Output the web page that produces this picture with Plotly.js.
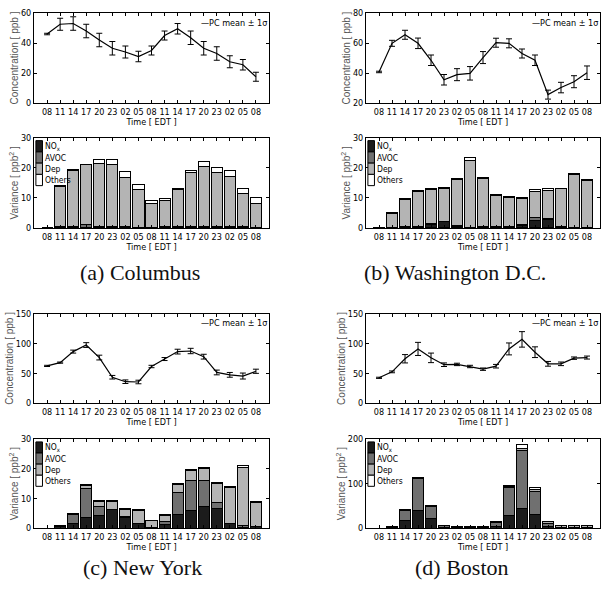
<!DOCTYPE html>
<html>
<head>
<meta charset="utf-8">
<script src="https://cdn.plot.ly/plotly-3.0.1.min.js"></script>
<style>html,body{margin:0;padding:0;background:#fff;}#chart{width:613px;height:592px;}</style>
</head>
<body>
<div id="chart"></div>
<script>
// ---------- DATA ----------
const hours = ['08','11','14','17','20','23','02','05','08','11','14','17','20','23','02','05','08'];

// (a) Columbus
const colConc = [46, 52.5, 53, 48, 42, 36.5, 34, 31, 35, 45, 49.5, 43.5, 36.5, 33, 27.5, 25.5, 17.5];
const colErr  = [0.5, 4, 4.5, 4.5, 4.5, 4.5, 4, 3.5, 3, 3, 3.5, 4.5, 4.5, 4.5, 4, 3.5, 3];
const colNOx  = [0, 0.1, 0.1, 0.1, 0.1, 0.1, 0.1, 0.1, 0.1, 0.1, 0.1, 0.1, 0.1, 0.1, 0.1, 0.1, 0.1];
const colAVOC = [0, 0.3, 0.5, 0.9, 0.4, 0.4, 0.3, 0.2, 0.2, 0.3, 0.5, 0.5, 0.3, 0.3, 0.3, 0.3, 0.2];
const colDep  = [0, 13.5, 18.5, 20.1, 21.0, 20.5, 16.5, 12.4, 7.7, 8.8, 12.3, 17.8, 20.2, 18.0, 16.9, 11.0, 7.9];
const colOth  = [0, 0.3, 0.3, 0.2, 1.4, 1.7, 1.8, 1.7, 1.0, 0.6, 0.3, 0.6, 1.6, 1.6, 2.0, 1.6, 1.9];

// (b) Washington D.C.
const dcConc = [40.7, 59.8, 65.5, 59.8, 48.5, 35.5, 38.9, 39.8, 50.3, 60.2, 59.8, 53, 48.5, 25.6, 30.3, 34.2, 40.2];
const dcErr  = [0.5, 2, 3, 3.5, 3.5, 3.5, 4, 4.5, 4, 3, 3, 3, 3.5, 3, 3.5, 4, 4.5];
const dcNOx  = [0, 0.1, 0.2, 0.3, 1.0, 2.0, 0.5, 0.1, 0.2, 0.2, 0.3, 0.8, 2.6, 2.8, 0.3, 0.1, 0.1];
const dcAVOC = [0, 0.1, 0.3, 0.3, 0.4, 0.3, 0.2, 0.1, 0.2, 0.2, 0.2, 0.2, 0.8, 0.5, 0.2, 0.1, 0.1];
const dcDep  = [0, 4.5, 9.0, 11.5, 11.3, 10.7, 15.4, 22.2, 16.0, 10.5, 9.8, 8.8, 8.9, 9.3, 12.5, 17.5, 15.6];
const dcOth  = [0, 0.3, 0.4, 0.3, 0.4, 0.4, 0.4, 1.0, 0.4, 0.3, 0.3, 0.3, 0.5, 0.5, 0.3, 0.4, 0.4];

// (c) New York
const nyConc = [62.5, 68, 86.5, 97.5, 76.5, 43.5, 36, 35.5, 61.5, 74, 86.5, 87.5, 78, 51.5, 47.5, 45.5, 53.5];
const nyErr  = [1, 1, 2.5, 4, 4, 3, 3, 3, 2, 2.5, 4, 4.5, 4, 4, 4, 5, 3.5];
const nyNOx  = [0, 0.5, 1.7, 3.7, 4.1, 6.3, 3.6, 1.4, 0.1, 1.1, 4.5, 5.8, 7.2, 6.6, 1.4, 0.3, 0.4];
const nyAVOC = [0, 0.2, 2.8, 9.6, 3.2, 0.1, 0.2, 0.1, 0.1, 1.2, 7.6, 10.4, 9.0, 1.9, 0.1, 0.6, 0.1];
const nyDep  = [0, 0, 0.3, 1.1, 1.6, 2.6, 2.6, 4.6, 2.2, 2.0, 2.7, 3.3, 3.9, 6.6, 12.3, 19.5, 8.2];
const nyOth  = [0, 0.1, 0.2, 0.3, 0.4, 0.2, 0.3, 0.3, 0.3, 0.3, 0.3, 0.4, 0.4, 0.4, 0.3, 0.8, 0.4];

// (d) Boston
const bosConc = [42.5, 52.5, 74.5, 91, 76, 64.5, 65, 61.5, 57, 62, 91, 107, 85.5, 66, 66, 75.5, 76.5];
const bosErr  = [1, 1.5, 7, 11, 8, 3, 2, 2, 2, 3, 10, 13, 9, 4, 3, 2, 2.5];
const bosNOx  = [0, 1.5, 17, 40, 22, 2, 1.5, 1.5, 1.5, 4, 29, 45, 30, 4, 1, 1, 1];
const bosAVOC = [0, 1.5, 23, 71, 27, 3, 1.5, 1.5, 1.5, 8, 62, 129, 53, 7, 1, 1, 1];
const bosDep  = [0, 0.3, 0.5, 1, 1, 1, 1, 1, 1, 1, 2, 6, 3, 3, 3.5, 3.5, 3.5];
const bosOth  = [0, 0.4, 1, 1, 1.5, 0.7, 0.5, 0.5, 0.5, 1, 2.5, 9, 5, 1.7, 0.5, 0.5, 0.5];

const captions = ['(a) Columbus', '(b) Washington D.C.', '(c) New York', '(d) Boston'];
const srcNames = ['NO<sub>x</sub>', 'AVOC', 'Dep', 'Others'];
const srcColors = ['#1c1c1c', '#707070', '#b4b4b4', '#ffffff'];

// ---------- BUILD ----------
const idx = hours.map((_, i) => i);
const fontN = 'DejaVu Sans Condensed, Liberation Sans Narrow, Liberation Sans, sans-serif';
const fontT = 'Liberation Sans, Arial, sans-serif';

const cities = [
  {conc: colConc, err: colErr, src: [colNOx, colAVOC, colDep, colOth], yl: [0, 60], yt: [0, 20, 40, 60], yb: [0, 30], ybt: [0, 10, 20, 30]},
  {conc: dcConc, err: dcErr, src: [dcNOx, dcAVOC, dcDep, dcOth], yl: [20, 80], yt: [20, 40, 60, 80], yb: [0, 30], ybt: [0, 10, 20, 30]},
  {conc: nyConc, err: nyErr, src: [nyNOx, nyAVOC, nyDep, nyOth], yl: [0, 150], yt: [0, 50, 100, 150], yb: [0, 30], ybt: [0, 10, 20, 30]},
  {conc: bosConc, err: bosErr, src: [bosNOx, bosAVOC, bosDep, bosOth], yl: [0, 150], yt: [0, 50, 100, 150], yb: [0, 200], ybt: [0, 100, 200]}
];

const xDom = [[0.0555, 0.4388], [0.5971, 0.9788]];
const yDomLine = [[0.826, 0.978], [0.319, 0.470]];
const yDomBar = [[0.615, 0.767], [0.108, 0.258]];
const capPos = [[0.228, 0.539], [0.742, 0.539], [0.233, 0.042], [0.754, 0.042]];

const traces = [];
const layout = {
  width: 613, height: 592,
  margin: {l: 0, r: 0, t: 0, b: 0},
  paper_bgcolor: '#fff', plot_bgcolor: '#fff',
  showlegend: false,
  barmode: 'stack', bargap: 0.15,
  annotations: [], shapes: []
};

function axX(dom, anchor) {
  return {
    domain: dom, anchor: anchor, range: [-1, 17],
    tickvals: idx, ticktext: hours, tickangle: 0,
    ticks: 'inside', ticklen: 3, tickcolor: '#000',
    showline: true, linecolor: '#000', linewidth: 1, mirror: 'ticks',
    showgrid: false, zeroline: false,
    tickfont: {family: fontN, size: 9, color: '#000'},
    title: {text: 'Time [ EDT ]', font: {family: fontN, size: 9, color: '#000'}, standoff: 0}
  };
}
function axY(dom, anchor, range, tv, title) {
  return {
    domain: dom, anchor: anchor, range: range, tickvals: tv,
    ticks: 'inside', ticklen: 3, tickcolor: '#000',
    showline: true, linecolor: '#000', linewidth: 1, mirror: 'ticks',
    showgrid: false, zeroline: false,
    tickfont: {family: fontN, size: 9, color: '#000'},
    title: {text: title, font: {family: fontT, size: 10, color: '#555'}, standoff: 0}
  };
}

cities.forEach((c, k) => {
  const col = k % 2, row = Math.floor(k / 2);
  const nL = 2 * k + 1, nB = 2 * k + 2;
  const sL = nL === 1 ? '' : String(nL), sB = String(nB);
  // line panel
  traces.push({
    type: 'scatter', mode: 'lines', x: idx, y: c.conc,
    xaxis: 'x' + sL, yaxis: 'y' + sL, name: 'PC mean ± 1σ',
    line: {color: '#000', width: 1.2},
    error_y: {type: 'data', array: c.err, visible: true, color: '#000', thickness: 1, width: 3}
  });
  layout['xaxis' + sL] = axX(xDom[col], 'y' + sL);
  layout['yaxis' + sL] = axY(yDomLine[row], 'x' + sL, c.yl, c.yt, 'Concentration [ ppb ]');
  layout.annotations.push({
    xref: 'x' + sL + ' domain', yref: 'y' + sL + ' domain', x: 1.0, y: 0.97,
    xanchor: 'right', yanchor: 'top', showarrow: false,
    text: '\u2014PC mean \u00b1 1\u03c3', font: {family: fontN, size: 9, color: '#000'}
  });
  // bar panel
  c.src.forEach((vals, j) => {
    traces.push({
      type: 'bar', x: idx, y: vals, name: srcNames[j].replace(/<[^>]+>/g, ''),
      xaxis: 'x' + sB, yaxis: 'y' + sB,
      marker: {color: srcColors[j], line: {color: '#000', width: 1}}
    });
    layout.shapes.push({
      type: 'rect', xref: 'x' + sB + ' domain', yref: 'y' + sB + ' domain',
      x0: 0.008, x1: 0.036, y0: 0.97 - 0.125 * (j + 1), y1: 0.97 - 0.125 * j,
      fillcolor: srcColors[j], line: {color: '#000', width: 1}
    });
    layout.annotations.push({
      xref: 'x' + sB + ' domain', yref: 'y' + sB + ' domain',
      x: 0.04, y: 0.97 - 0.125 * (j + 0.5), xanchor: 'left', yanchor: 'middle',
      showarrow: false, text: srcNames[j], font: {family: fontN, size: 8.5, color: '#000'}
    });
  });
  layout['xaxis' + sB] = axX(xDom[col], 'y' + sB);
  layout['yaxis' + sB] = axY(yDomBar[row], 'x' + sB, c.yb, c.ybt, 'Variance [ ppb<sup>2</sup> ]');
  // caption
  layout.annotations.push({
    xref: 'paper', yref: 'paper', x: capPos[k][0], y: capPos[k][1],
    xanchor: 'center', yanchor: 'middle', showarrow: false,
    text: captions[k], font: {family: 'Liberation Serif, DejaVu Serif, serif', size: 22, color: '#111'}
  });
});

Plotly.newPlot('chart', traces, layout, {staticPlot: true, displayModeBar: false});
</script>
</body>
</html>
